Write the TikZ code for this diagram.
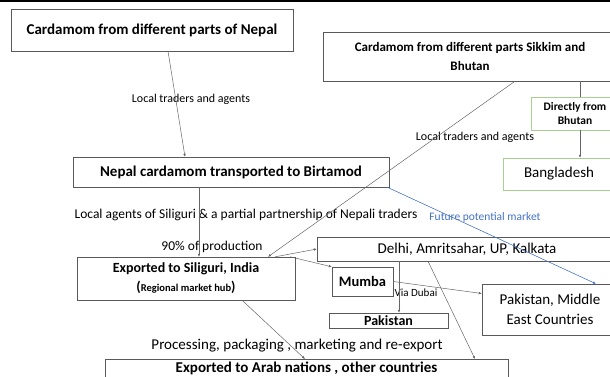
\documentclass[tikz,border=0pt]{standalone}
\usepackage{fontspec}
\setmainfont{Carlito}
\usetikzlibrary{arrows.meta}
\definecolor{boxgreen}{RGB}{169,208,142}
\definecolor{futblue}{RGB}{68,114,196}

\begin{document}
\begin{tikzpicture}[
                    x=1pt, y=-1pt,
                    box/.style={draw=black!65, inner sep=0pt, align=center, font=\bfseries},
                    gbox/.style={draw=boxgreen, inner sep=0pt, align=center},
                    lbl/.style={inner sep=0pt, font=\fontsize{12}{14}\selectfont},
                    conn/.style={draw=black!60, line width=0.5pt},
                    tip/.style={-{Latex[length=3pt,width=2.6pt]}}
                ]
                    \clip (0,0) rectangle (610,377);
                    \draw[line width=4pt] (0,0) -- (610,0);
                    % sources
                    \node[box, minimum width=282pt, minimum height=42pt, font=\bfseries\fontsize{15}{17}\selectfont] (nepal) at (152,30) {Cardamom from different parts of Nepal};
                    \node[box, minimum width=294pt, minimum height=49pt, font=\bfseries\fontsize{13}{19}\selectfont] (sikkim) at (470,56.5) {Cardamom from different parts Sikkim and\\Bhutan};
                    \node[gbox, minimum width=88pt, minimum height=33pt, font=\bfseries\fontsize{11.5}{14}\selectfont] (direct) at (575,113.5) {Directly from\\Bhutan};
                    \node[gbox, minimum width=112pt, minimum height=32pt, font=\fontsize{15}{17}\selectfont] (bangla) at (559,174) {Bangladesh};
                    \node[box, minimum width=316pt, minimum height=30pt, font=\bfseries\fontsize{15}{17}\selectfont] (birta) at (231,172) {Nepal cardamom transported to Birtamod};
                    % markets
                    \node[box, minimum width=218pt, minimum height=43pt, font=\bfseries\fontsize{14}{19}\selectfont] (siliguri) at (186,278.5) {Exported to Siliguri, India\\({\fontsize{10.5}{11}\selectfont Regional market hub})};
                    \node[box, minimum width=300pt, minimum height=24pt, font=\fontsize{15}{17}\selectfont] (delhi) at (467,249) {Delhi, Amritsahar, UP, Kalkata};
                    \node[box, minimum width=61pt, minimum height=29pt, font=\bfseries\fontsize{14.5}{16}\selectfont] (mumba) at (362.5,281.5) {Mumba};
                    \node[box, minimum width=119pt, minimum height=15pt, font=\bfseries\fontsize{14}{15}\selectfont] (pak) at (388.5,320.5) {Pakistan};
                    \node[box, minimum width=136pt, minimum height=51pt, font=\fontsize{15}{20}\selectfont] (mideast) at (550,309.5) {Pakistan, Middle\\East Countries};
                    \node[box, anchor=north, minimum width=403pt, inner ysep=3pt, font=\bfseries\fontsize{15}{17}\selectfont] (arab) at (306.5,359) {Exported to Arab nations , other countries};
                    % labels
                    \node[lbl] (lblnepal) at (191,99) {Local traders and agents};
                    \node[lbl] (lblsikkim) at (475,137) {Local traders and agents};
                    \node[lbl, font=\fontsize{13.5}{15}\selectfont] (lblagents) at (246,215) {Local agents of Siliguri \& a partial partnership of Nepali traders};
                    \node[lbl, font=\fontsize{13.5}{15}\selectfont] (lblshare) at (212,247) {90\% of production};
                    \node[lbl, text=futblue, font=\fontsize{11.5}{13}\selectfont] (lblfuture) at (485,217) {Future potential market};
                    \node[lbl, font=\fontsize{11}{12}\selectfont] (lbldubai) at (416,293) {Via Dubai};
                    \node[lbl, font=\fontsize{15}{17}\selectfont] (lblproc) at (297,346) {Processing, packaging , marketing and re-export};
                    % connectors
                    \draw[conn, tip] ([xshift=16pt]nepal.south) -- ([xshift=-46pt]birta.north);
                    \draw[conn, tip] ([xshift=45pt]sikkim.south) -- ([xshift=82pt]siliguri.north);
                    \draw[conn] ([xshift=110pt]sikkim.south) -- ([xshift=5pt]direct.north);
                    \draw[conn, tip] ([xshift=5pt]direct.south) -- ([xshift=21pt]bangla.north);
                    \draw[conn, tip] ([xshift=-32pt]birta.south) -- ([xshift=13pt]siliguri.north);
                    \draw[conn, tip] ([xshift=-20pt]siliguri.north east) -- (delhi.west);
                    \draw[conn, tip] ([xshift=-5pt]siliguri.north east) -- (mumba.north west);
                    \draw[conn, tip] (mumba.east) -- ([yshift=16pt]mideast.west);
                    \draw[conn, tip] ([xshift=-68pt]delhi.south) -- ([xshift=10.5pt]pak.north);
                    \draw[conn, tip] ([xshift=-39pt]delhi.south) -- ([xshift=168.5pt]arab.north);
                    \draw[conn, tip] ([xshift=56pt]siliguri.south) -- ([xshift=-1.5pt]arab.north);
                    \draw[conn, tip, draw=futblue, fill=futblue] ([xshift=-2pt]birta.south east) -- ([xshift=46pt]mideast.north);
                \end{tikzpicture}
\end{document}
